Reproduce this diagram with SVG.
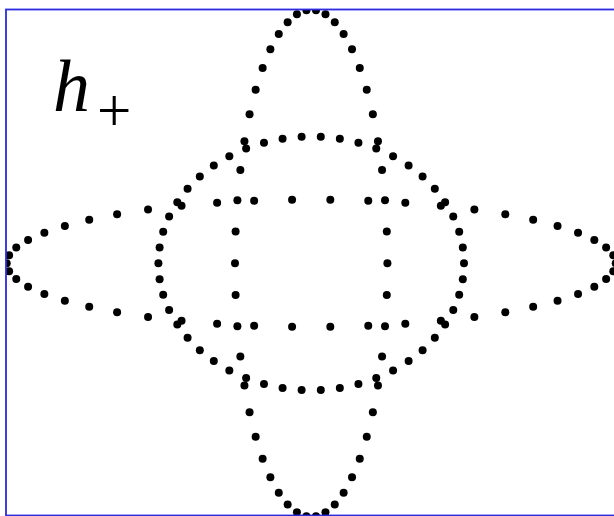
<svg xmlns="http://www.w3.org/2000/svg" width="614" height="516" viewBox="0 0 614 516">
<style>
.d circle{fill:#000;}
.lab{font-family:"Liberation Serif","Times New Roman",serif;fill:#000;}
</style>
<defs>
<clipPath id="plot"><rect x="6" y="9.8" width="620" height="520"/></clipPath>
</defs>
<rect x="0" y="0" width="614" height="516" fill="#fff"/>
<g clip-path="url(#plot)">
<g id="ring" class="d">
<circle cx="464.0" cy="263.3" r="4"/><circle cx="158.4" cy="263.3" r="4"/>
<circle cx="462.8" cy="247.4" r="4"/><circle cx="159.6" cy="247.4" r="4"/><circle cx="159.6" cy="279.2" r="4"/><circle cx="462.8" cy="279.2" r="4"/>
<circle cx="459.2" cy="231.75" r="4"/><circle cx="163.2" cy="231.75" r="4"/><circle cx="163.2" cy="294.85" r="4"/><circle cx="459.2" cy="294.85" r="4"/>
<circle cx="453.27" cy="216.6" r="4"/><circle cx="169.13" cy="216.6" r="4"/><circle cx="169.13" cy="310.0" r="4"/><circle cx="453.27" cy="310.0" r="4"/>
<circle cx="445.1" cy="202.19" r="4"/><circle cx="177.3" cy="202.19" r="4"/><circle cx="177.3" cy="324.41" r="4"/><circle cx="445.1" cy="324.41" r="4"/>
<circle cx="434.82" cy="188.74" r="4"/><circle cx="187.58" cy="188.74" r="4"/><circle cx="187.58" cy="337.86" r="4"/><circle cx="434.82" cy="337.86" r="4"/>
<circle cx="422.59" cy="176.47" r="4"/><circle cx="199.81" cy="176.47" r="4"/><circle cx="199.81" cy="350.13" r="4"/><circle cx="422.59" cy="350.13" r="4"/>
<circle cx="408.6" cy="165.56" r="4"/><circle cx="213.8" cy="165.56" r="4"/><circle cx="213.8" cy="361.04" r="4"/><circle cx="408.6" cy="361.04" r="4"/>
<circle cx="393.07" cy="156.2" r="4"/><circle cx="229.33" cy="156.2" r="4"/><circle cx="229.33" cy="370.4" r="4"/><circle cx="393.07" cy="370.4" r="4"/>
<circle cx="376.26" cy="148.52" r="4"/><circle cx="246.14" cy="148.52" r="4"/><circle cx="246.14" cy="378.08" r="4"/><circle cx="376.26" cy="378.08" r="4"/>
<circle cx="358.42" cy="142.66" r="4"/><circle cx="263.98" cy="142.66" r="4"/><circle cx="263.98" cy="383.94" r="4"/><circle cx="358.42" cy="383.94" r="4"/>
<circle cx="339.83" cy="138.7" r="4"/><circle cx="282.57" cy="138.7" r="4"/><circle cx="282.57" cy="387.9" r="4"/><circle cx="339.83" cy="387.9" r="4"/>
<circle cx="320.79" cy="136.7" r="4"/><circle cx="301.61" cy="136.7" r="4"/><circle cx="301.61" cy="389.9" r="4"/><circle cx="320.79" cy="389.9" r="4"/>
</g>
<g id="ring-stretched-x" class="d">
<circle cx="615.7" cy="263.3" r="4"/><circle cx="6.7" cy="263.3" r="4"/>
<circle cx="613.3" cy="255.33" r="4"/><circle cx="9.1" cy="255.33" r="4"/><circle cx="9.1" cy="271.27" r="4"/><circle cx="613.3" cy="271.27" r="4"/>
<circle cx="606.13" cy="247.48" r="4"/><circle cx="16.27" cy="247.48" r="4"/><circle cx="16.27" cy="279.12" r="4"/><circle cx="606.13" cy="279.12" r="4"/>
<circle cx="594.32" cy="239.89" r="4"/><circle cx="28.08" cy="239.89" r="4"/><circle cx="28.08" cy="286.71" r="4"/><circle cx="594.32" cy="286.71" r="4"/>
<circle cx="578.04" cy="232.66" r="4"/><circle cx="44.36" cy="232.66" r="4"/><circle cx="44.36" cy="293.94" r="4"/><circle cx="578.04" cy="293.94" r="4"/>
<circle cx="557.55" cy="225.92" r="4"/><circle cx="64.85" cy="225.92" r="4"/><circle cx="64.85" cy="300.68" r="4"/><circle cx="557.55" cy="300.68" r="4"/>
<circle cx="533.17" cy="219.76" r="4"/><circle cx="89.23" cy="219.76" r="4"/><circle cx="89.23" cy="306.84" r="4"/><circle cx="533.17" cy="306.84" r="4"/>
<circle cx="505.3" cy="214.3" r="4"/><circle cx="117.1" cy="214.3" r="4"/><circle cx="117.1" cy="312.3" r="4"/><circle cx="505.3" cy="312.3" r="4"/>
<circle cx="474.36" cy="209.6" r="4"/><circle cx="148.04" cy="209.6" r="4"/><circle cx="148.04" cy="317.0" r="4"/><circle cx="474.36" cy="317.0" r="4"/>
<circle cx="440.85" cy="205.75" r="4"/><circle cx="181.55" cy="205.75" r="4"/><circle cx="181.55" cy="320.85" r="4"/><circle cx="440.85" cy="320.85" r="4"/>
<circle cx="405.3" cy="202.81" r="4"/><circle cx="217.1" cy="202.81" r="4"/><circle cx="217.1" cy="323.79" r="4"/><circle cx="405.3" cy="323.79" r="4"/>
<circle cx="368.26" cy="200.83" r="4"/><circle cx="254.14" cy="200.83" r="4"/><circle cx="254.14" cy="325.77" r="4"/><circle cx="368.26" cy="325.77" r="4"/>
<circle cx="330.32" cy="199.83" r="4"/><circle cx="292.08" cy="199.83" r="4"/><circle cx="292.08" cy="326.77" r="4"/><circle cx="330.32" cy="326.77" r="4"/>
</g>
<g id="ring-stretched-y" class="d">
<circle cx="387.4" cy="263.3" r="4"/><circle cx="235.0" cy="263.3" r="4"/>
<circle cx="386.8" cy="231.53" r="4"/><circle cx="235.6" cy="231.53" r="4"/><circle cx="235.6" cy="295.07" r="4"/><circle cx="386.8" cy="295.07" r="4"/>
<circle cx="385.01" cy="200.26" r="4"/><circle cx="237.39" cy="200.26" r="4"/><circle cx="237.39" cy="326.34" r="4"/><circle cx="385.01" cy="326.34" r="4"/>
<circle cx="382.05" cy="169.98" r="4"/><circle cx="240.35" cy="169.98" r="4"/><circle cx="240.35" cy="356.62" r="4"/><circle cx="382.05" cy="356.62" r="4"/>
<circle cx="377.97" cy="141.18" r="4"/><circle cx="244.43" cy="141.18" r="4"/><circle cx="244.43" cy="385.42" r="4"/><circle cx="377.97" cy="385.42" r="4"/>
<circle cx="372.85" cy="114.3" r="4"/><circle cx="249.55" cy="114.3" r="4"/><circle cx="249.55" cy="412.3" r="4"/><circle cx="372.85" cy="412.3" r="4"/>
<circle cx="366.75" cy="89.77" r="4"/><circle cx="255.65" cy="89.77" r="4"/><circle cx="255.65" cy="436.83" r="4"/><circle cx="366.75" cy="436.83" r="4"/>
<circle cx="359.77" cy="67.97" r="4"/><circle cx="262.63" cy="67.97" r="4"/><circle cx="262.63" cy="458.63" r="4"/><circle cx="359.77" cy="458.63" r="4"/>
<circle cx="352.03" cy="49.26" r="4"/><circle cx="270.37" cy="49.26" r="4"/><circle cx="270.37" cy="477.34" r="4"/><circle cx="352.03" cy="477.34" r="4"/>
<circle cx="343.64" cy="33.93" r="4"/><circle cx="278.76" cy="33.93" r="4"/><circle cx="278.76" cy="492.67" r="4"/><circle cx="343.64" cy="492.67" r="4"/>
<circle cx="334.75" cy="22.21" r="4"/><circle cx="287.65" cy="22.21" r="4"/><circle cx="287.65" cy="504.39" r="4"/><circle cx="334.75" cy="504.39" r="4"/>
<circle cx="325.48" cy="14.29" r="4"/><circle cx="296.92" cy="14.29" r="4"/><circle cx="296.92" cy="512.31" r="4"/><circle cx="325.48" cy="512.31" r="4"/>
<circle cx="315.98" cy="10.3" r="4"/><circle cx="306.42" cy="10.3" r="4"/><circle cx="306.42" cy="516.3" r="4"/><circle cx="315.98" cy="516.3" r="4"/>
</g>
</g>
<rect id="frame" x="6" y="9.5" width="620" height="506" fill="none" stroke="#2a2ae0" stroke-width="1.8"/>
<g id="label">
<text class="lab" x="53" y="111" font-size="74" font-style="italic">h</text>
<text class="lab" x="97" y="131" font-size="61">+</text>
</g>
</svg>
